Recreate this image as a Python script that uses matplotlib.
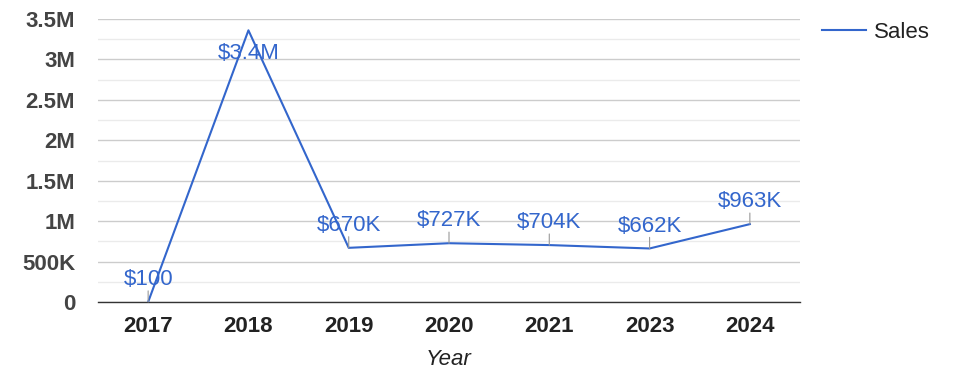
import matplotlib.pyplot as plt
from matplotlib.ticker import MultipleLocator

plt.rcParams['font.family'] = ['Liberation Sans', 'DejaVu Sans']

years = ['2017', '2018', '2019', '2020', '2021', '2023', '2024']
sales = [100, 3360000, 670000, 727000, 704000, 662000, 963000]
labels = ['$100', '$3.4M', '$670K', '$727K', '$704K', '$662K', '$963K']
ytick_vals = [0, 500000, 1000000, 1500000, 2000000, 2500000, 3000000, 3500000]
ytick_labels = ['0', '500K', '1M', '1.5M', '2M', '2.5M', '3M', '3.5M']

blue = '#3366cc'
fs = 16

fig = plt.figure(figsize=(9.75, 3.78), dpi=100)
ax = fig.add_axes([98 / 975, 1 - 302 / 378, 702 / 975, 283 / 378])

x = list(range(len(years)))
ax.plot(x, sales, color=blue, lw=1.5, label='Sales', zorder=3)

# data labels with small leader lines
for i, (v, t) in enumerate(zip(sales, labels)):
    if v == max(sales):
        ax.annotate(t, (i, v), xytext=(0, -16.5), textcoords='offset points',
                    ha='center', va='center', fontsize=fs, color=blue, zorder=4)
        continue
    ax.annotate('', (i, v), xytext=(0, 8), textcoords='offset points',
                arrowprops=dict(arrowstyle='-', color='#999999', lw=0.8,
                                shrinkA=0, shrinkB=0))
    ax.annotate(t, (i, v), xytext=(0, 16), textcoords='offset points',
                ha='center', va='center', fontsize=fs, color=blue, zorder=4)

ax.set_xlim(-0.5, len(years) - 0.5)
ax.set_ylim(0, 3500000)
ax.set_xticks(x)
ax.set_xticklabels(years, fontsize=fs, fontweight='bold', color='#222222')
ax.set_yticks(ytick_vals)
ax.set_yticklabels(ytick_labels, fontsize=fs, fontweight='bold', color='#444444')
ax.yaxis.set_minor_locator(MultipleLocator(250000))
ax.tick_params(axis='both', length=0, which='both')
ax.tick_params(axis='y', pad=16.5)
ax.tick_params(axis='x', pad=10)

ax.grid(axis='y', which='major', color='#cccccc', lw=1)
ax.grid(axis='y', which='minor', color='#ebebeb', lw=1)
ax.set_axisbelow(True)
for s in ['top', 'right', 'left']:
    ax.spines[s].set_visible(False)
ax.spines['bottom'].set_color('#333333')
ax.spines['bottom'].set_linewidth(1)
ax.spines['bottom'].set_zorder(2.5)

ax.set_xlabel('Year', fontsize=fs, style='italic', color='#222222', labelpad=9)

ax.legend(loc='upper left', bbox_to_anchor=(822 / 975, 1 - 22 / 378),
          bbox_transform=fig.transFigure, frameon=False, fontsize=fs,
          handlelength=2.0, handletextpad=0.36, borderpad=0, borderaxespad=0,
          labelcolor='#222222')

fig.savefig('out.png', dpi=100)
